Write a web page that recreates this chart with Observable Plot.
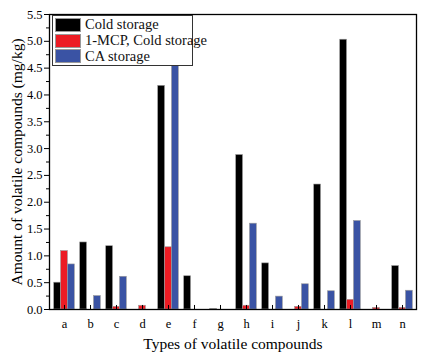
<!DOCTYPE html>
<html>
<head>
<meta charset="utf-8">
<script src="https://cdn.jsdelivr.net/npm/d3@7"></script>
<script src="https://cdn.jsdelivr.net/npm/@observablehq/plot@0.6"></script>
<style>
  html, body { margin: 0; padding: 0; background: #fff; }
  #wrap { position: relative; width: 431px; height: 360px; font-family: "Liberation Serif", serif; }
  #chart svg, #chart svg text { font-family: "Liberation Serif", serif !important; }
  #legend { position: absolute; left: 52px; top: 15px; width: 141px; border: 1px solid #333; background: #fff; padding: 1px 0 1px 1px; box-sizing: border-box; }
  .row { display: flex; align-items: center; height: 15.7px; font-size: 14.5px; color: #111; white-space: nowrap; font-family: "Liberation Serif", serif; }
  .sw { width: 26px; height: 14px; border: 1px solid #999; box-sizing: border-box; margin: 0 4px 0 1px; flex: none; }
</style>
</head>
<body>
<div id="wrap"><div id="chart"></div><div id="legend"></div></div>
<script>
const categories = ["a","b","c","d","e","f","g","h","i","j","k","l","m","n"];
const coldStorage = [0.50, 1.25, 1.18, 0, 4.17, 0.62, 0.01, 2.88, 0.86, 0, 2.33, 5.03, 0, 0.81];
const mcpColdStorage = [1.09, 0, 0.05, 0.07, 1.16, 0, 0, 0.07, 0, 0.05, 0, 0.18, 0.03, 0.03];
const caStorage = [0.84, 0.25, 0.61, 0, 4.70, 0, 0, 1.60, 0.24, 0.47, 0.34, 1.65, 0, 0.35];
const seriesNames = ["Cold storage", "1-MCP, Cold storage", "CA storage"];
const seriesColors = ["#000000", "#ec1c24", "#3a53a4"];
const yMajorTicks = [0, 0.5, 1, 1.5, 2, 2.5, 3, 3.5, 4, 4.5, 5, 5.5];
const yMinorTicks = [0.25, 0.75, 1.25, 1.75, 2.25, 2.75, 3.25, 3.75, 4.25, 4.75, 5.25];
const xLabel = "Types of volatile compounds";
const yLabel = "Amount of volatile compounds (mg/kg)";

const rows = (vals) => categories.map((c, i) => ({cat: c, value: vals[i]}));
const s0 = rows(coldStorage), s1 = rows(mcpColdStorage), s2 = rows(caStorage);

const barOpts = {x: "cat", y: "value", stroke: "#9a9a9a", strokeWidth: 0.6};
const serif = "Liberation Serif, serif";

const chart = Plot.plot({
  width: 431,
  height: 360,
  marginLeft: 49,
  marginRight: 15,
  marginTop: 14,
  marginBottom: 51,
  style: {fontFamily: "'Liberation Serif', serif", background: "#fff", color: "#000"},
  x: {domain: categories, padding: 0},
  y: {domain: [0, 5.5]},
  marks: [
    Plot.barY(s0.filter(d => d.value > 0), {...barOpts, fill: seriesColors[0], insetLeft: 2.7, insetRight: 16.5}),
    Plot.barY(s1.filter(d => d.value > 0), {...barOpts, fill: seriesColors[1], insetLeft: 9.6, insetRight: 9.6}),
    Plot.barY(s2.filter(d => d.value > 0), {...barOpts, fill: seriesColors[2], insetLeft: 16.5, insetRight: 2.7}),
    Plot.ruleX(categories, {x: d => d, y1: 0, y2: 0.075, stroke: "#000", strokeWidth: 1}),
    Plot.axisX({tickSize: 0, tickPadding: 10, fontSize: 12.5, fontFamily: serif, label: null}),
    Plot.axisY({ticks: yMajorTicks, tickFormat: ".1f", tickSize: 5, tickPadding: 2, fontSize: 12.5, fontFamily: serif, label: null}),
    Plot.axisY({ticks: yMinorTicks, tickFormat: () => "", tickSize: 3, label: null}),
    Plot.frame({stroke: "#000", strokeWidth: 1.3}),
    Plot.text([xLabel], {frameAnchor: "bottom", lineAnchor: "middle", textAnchor: "middle", dy: 35, fontSize: 15.5, fontFamily: serif, fill: "#000"}),
    Plot.text([yLabel], {frameAnchor: "left", lineAnchor: "middle", textAnchor: "middle", dx: -32, rotate: -90, fontSize: 15.5, fontFamily: serif, fill: "#000"})
  ]
});
document.getElementById("chart").appendChild(chart);

const legend = document.getElementById("legend");
seriesNames.forEach((name, i) => {
  const row = document.createElement("div");
  row.className = "row";
  const sw = document.createElement("div");
  sw.className = "sw";
  sw.style.background = seriesColors[i];
  const t = document.createElement("span");
  t.textContent = name;
  row.appendChild(sw);
  row.appendChild(t);
  legend.appendChild(row);
});
</script>
</body>
</html>
